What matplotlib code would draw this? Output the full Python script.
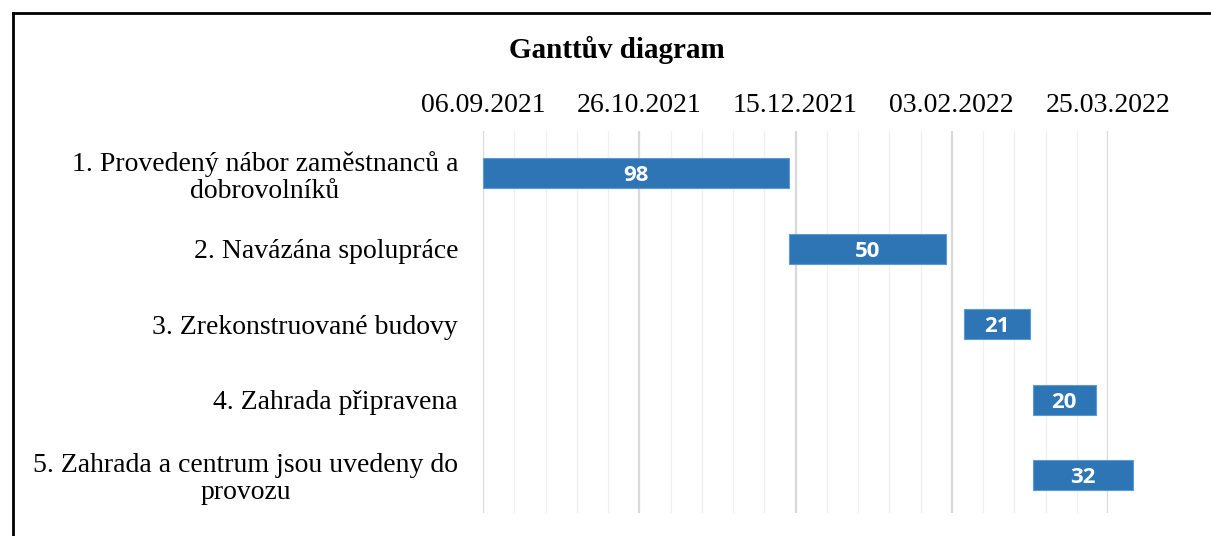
import datetime as dt
import numpy as np
import matplotlib
matplotlib.use("Agg")
import matplotlib.pyplot as plt
import matplotlib.dates as mdates
from matplotlib.lines import Line2D

# data
tasks = [
    "1. Provedený nábor zaměstnanců a\ndobrovolníků",
    "2. Navázána spolupráce",
    "3. Zrekonstruované budovy",
    "4. Zahrada připravena",
    "5. Zahrada a centrum jsou uvedeny do\nprovozu",
]
starts = ["06.09.2021", "13.12.2021", "07.02.2022", "01.03.2022", "01.03.2022"]
durations = [98, 50, 21, 20, 32]
tick_dates = ["06.09.2021", "26.10.2021", "15.12.2021", "03.02.2022", "25.03.2022"]
title = "Ganttův diagram"

to_num = lambda s: mdates.date2num(dt.datetime.strptime(s, "%d.%m.%Y"))
start_num = np.array([to_num(s) for s in starts])
tick_num = np.array([to_num(s) for s in tick_dates])

W, H = 1211, 536
fig = plt.figure(figsize=(W / 100, H / 100), dpi=100)
ax = fig.add_axes([483 / W, 1 - 513 / H, (1108 - 483) / W, (513 - 131) / H])

y = np.arange(len(tasks))
bars = ax.barh(y, durations, left=start_num, height=0.4, color="#2E75B6",
               edgecolor="#5B9BD5", linewidth=0.8, zorder=3, clip_on=False)
for yi, s, d in zip(y, start_num, durations):
    ax.text(s + d / 2, yi, str(d), ha="center", va="center_baseline", color="white",
            fontsize=16, fontweight="bold", family="Open Sans", zorder=4)

ax.set_xlim(tick_num[0], tick_num[-1])
ax.set_ylim(len(tasks) - 0.5, -0.56)

# axis on top, no tick marks
ax.xaxis.tick_top()
ax.set_xticks(tick_num)
ax.xaxis.set_major_formatter(mdates.DateFormatter("%d.%m.%Y"))
ax.set_xticks(np.arange(tick_num[0], tick_num[-1] + 1, 10), minor=True)
ax.tick_params(axis="x", which="both", length=0, pad=9, labelsize=20)
for lbl in ax.get_xticklabels():
    lbl.set_family("Liberation Serif")

ax.set_yticks(y)
ax.set_yticklabels(tasks, fontsize=20, family="Liberation Serif",
                   multialignment="center", linespacing=1.1)
ax.tick_params(axis="y", length=0, pad=18)

ax.grid(True, axis="x", which="minor", color="#f0f0f0", linewidth=1.0, zorder=0)
ax.grid(True, axis="x", which="major", color="#d9d9d9", linewidth=1.6, zorder=1)
ax.set_axisbelow(True)
for sp in ax.spines.values():
    sp.set_visible(False)

fig.text(617 / W, 1 - 50 / H, title, ha="center", va="center", fontsize=21,
         fontweight="bold", family="Liberation Serif")

# outer frame (left and top edges visible)
fx, fy = 12.5 / W, 1 - 12.5 / H
fig.add_artist(Line2D([fx, fx], [0, fy], transform=fig.transFigure, color="black", lw=2))
fig.add_artist(Line2D([fx, 1], [fy, fy], transform=fig.transFigure, color="black", lw=2))

fig.savefig("out.png", dpi=100)
